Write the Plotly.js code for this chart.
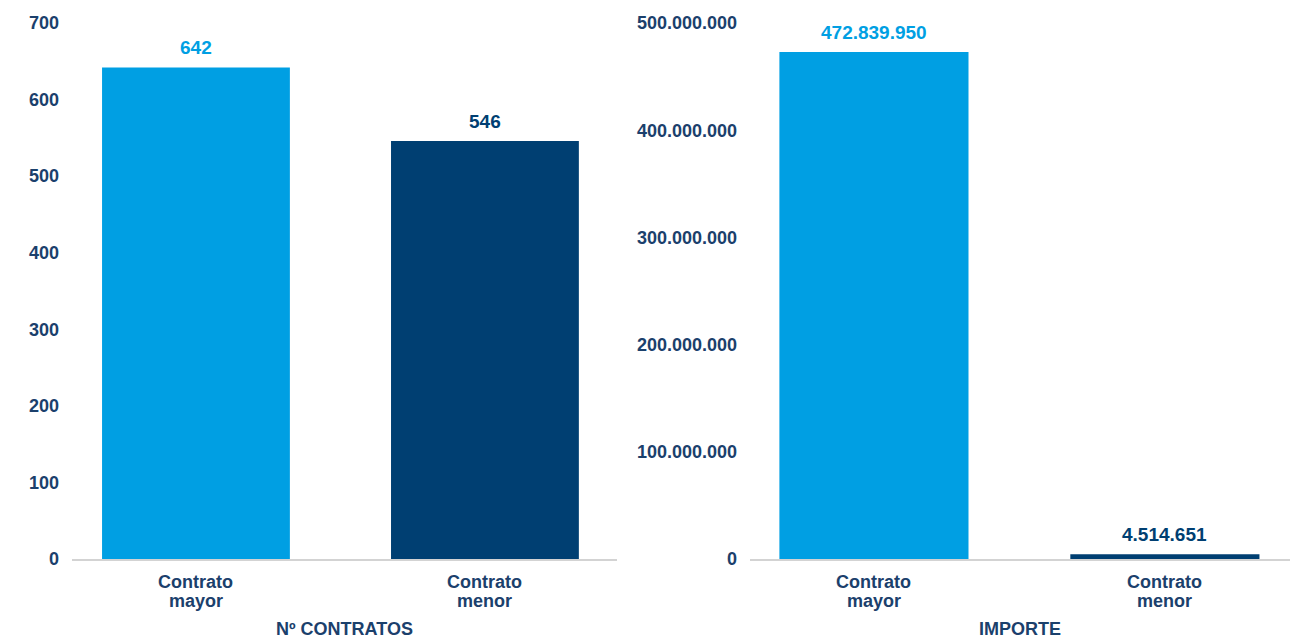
<!DOCTYPE html>
<html>
<head>
<meta charset="utf-8">
<script src="https://cdn.plot.ly/plotly-3.0.1.min.js"></script>
<style>html,body{margin:0;padding:0;background:#fff;}#chart{width:1300px;height:640px;}</style>
</head>
<body>
<div id="chart"></div>
<script>
const categories = ["Contrato<br>mayor", "Contrato<br>menor"];
const numContratos = [642, 546];
const importe = [472839950, 4514651];
const panelTitles = ["Nº CONTRATOS", "IMPORTE"];
const leftTicks = [0, 100, 200, 300, 400, 500, 600, 700];
const rightTicks = [0, 100000000, 200000000, 300000000, 400000000, 500000000];

const LIGHT = "#009fe3";
const DARK = "#003f72";
const NAVY = "#1b406c";
const barColors = [LIGHT, DARK];
const FAM = "Liberation Sans, Arial, sans-serif";

function fmt(v){ return String(Math.round(v)).replace(/\B(?=(\d{3})+(?!\d))/g, "."); }

const traces = [
  {type: "bar", x: categories, y: numContratos, xaxis: "x", yaxis: "y",
   marker: {color: barColors}, width: 0.65, hoverinfo: "none"},
  {type: "bar", x: categories, y: importe, xaxis: "x2", yaxis: "y2",
   marker: {color: barColors}, width: 0.65, hoverinfo: "none"}
];

const annotations = [];
function valueLabels(vals, xref, yref){
  vals.forEach((v, i) => annotations.push({
    x: categories[i], y: v, xref: xref, yref: yref, text: fmt(v), showarrow: false,
    yanchor: "bottom", yshift: 7, font: {family: FAM, size: 19, color: barColors[i], weight: "bold"}
  }));
}
valueLabels(numContratos, "x", "y");
valueLabels(importe, "x2", "y2");

// category labels (two lines each, tight spacing)
function catLabels(xref){
  categories.forEach((c) => {
    c.split("<br>").forEach((part, j) => annotations.push({
      x: c, y: (640 - (582 + 19 * j)) / 640, xref: xref, yref: "paper", yanchor: "middle", xanchor: "center",
      text: part, showarrow: false, font: {family: FAM, size: 18, color: NAVY, weight: "bold"}
    }));
  });
}
catLabels("x");
catLabels("x2");

[0, 1].forEach(i => annotations.push({
  x: i === 0 ? 344.5/1300 : 1020/1300, y: (640 - 629) / 640, xref: "paper", yref: "paper",
  yanchor: "middle", xanchor: "center",
  text: panelTitles[i], showarrow: false,
  font: {family: FAM, size: 18, color: NAVY, weight: "bold"}
}));

const xCommon = {type: "category", showgrid: false, zeroline: false, showline: true,
  linecolor: "#d3d3d3", linewidth: 2, ticks: "", showticklabels: false, fixedrange: true};
const yCommon = {showgrid: false, zeroline: false, showline: false, ticks: "",
  tickfont: {family: FAM, size: 18, color: NAVY, weight: "bold"}, ticklabelstandoff: 12, fixedrange: true};

const layout = {
  width: 1300, height: 640,
  margin: {l: 0, r: 0, t: 0, b: 0},
  paper_bgcolor: "#ffffff", plot_bgcolor: "#ffffff",
  showlegend: false,
  xaxis: Object.assign({}, xCommon, {domain: [72/1300, 617/1300], range: [-0.429, 1.457], anchor: "y"}),
  yaxis: Object.assign({}, yCommon, {domain: [81/640, 617/640], range: [0, 700], tickvals: leftTicks,
    ticktext: leftTicks.map(fmt), anchor: "x"}),
  xaxis2: Object.assign({}, xCommon, {domain: [750/1300, 1290/1300], range: [-0.426, 1.43], anchor: "y2"}),
  yaxis2: Object.assign({}, yCommon, {domain: [81/640, 617/640], range: [0, 500000000], tickvals: rightTicks,
    ticktext: rightTicks.map(fmt), anchor: "x2"}),
  annotations: annotations
};

Plotly.newPlot("chart", traces, layout, {displayModeBar: false, staticPlot: true});
</script>
</body>
</html>
